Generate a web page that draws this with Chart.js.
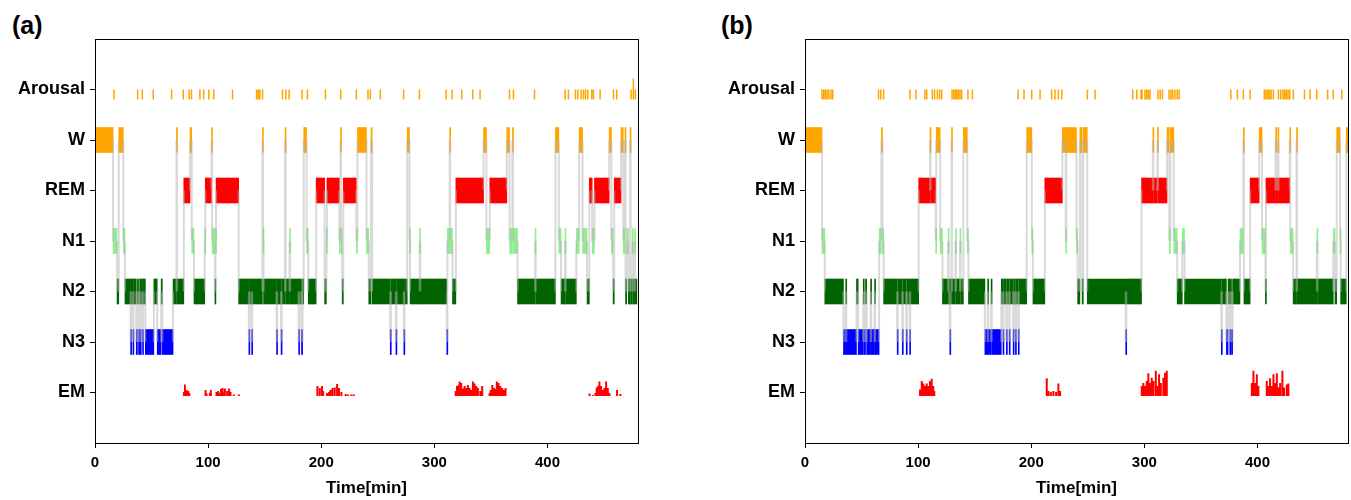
<!DOCTYPE html>
<html>
<head>
<meta charset="utf-8">
<script src="https://cdn.jsdelivr.net/npm/chart.js@4"></script>
<style>
  body { margin: 0; background: #fff; width: 1351px; height: 500px; position: relative; overflow: hidden;
         font-family: "Liberation Sans", Arial, sans-serif; }
  .tag { position: absolute; top: 11px; font-weight: bold; font-size: 25px; }
  #ca { position: absolute; left: 0; top: 0; }
  #cb { position: absolute; left: 710px; top: 0; }
</style>
</head>
<body>
<div class="tag" style="left:12px">(a)</div>
<div class="tag" style="left:721px">(b)</div>
<canvas id="ca" width="675" height="500"></canvas>
<canvas id="cb" width="641" height="500"></canvas>
<script>
// y categories (bottom to top) and x ticks
const stageNames = ["EM", "N3", "N2", "N1", "REM", "W", "Arousal"];
const stageLevel = { W: 5, REM: 4, N1: 3, N2: 2, N3: 1 };
const stageColor = { W: "#ffa500", REM: "#ff0000", N1: "#90ee90", N2: "#006400", N3: "#0000ff" };
const xTicks = [0, 100, 200, 300, 400];

// ---- panel (a): hypnogram, each stage lasts until the next start time ----
const hypTimesA = [0, 16, 19.5, 21, 25, 26.5, 31.5, 32, 33.5, 34, 36.5, 37.5, 38.5, 39.5, 40, 40.5, 42, 42.5, 44.5, 52,
  55, 58.5, 59.5, 69, 72, 72.5, 78.5, 84, 85.5, 87.5, 97, 97.5, 103, 103.5, 106, 106.5, 107, 127, 136, 136.5,
  138.5, 139, 148, 148.5, 149, 160.5, 161, 164.5, 165, 168, 168.5, 172, 172.5, 180, 180.5, 182.5, 183.5, 184.5, 187, 188.5,
  195.5, 203, 204.5, 205, 216, 217, 217.5, 218.5, 219.5, 231, 232, 240, 242, 244, 245, 261, 261.5, 266, 266.5, 273,
  273.5, 276, 278, 278.5, 287, 287.5, 311, 311.5, 313.5, 314, 316, 319, 343.5, 346, 349, 364, 366.5, 369, 369.5, 373.5,
  389, 389.5, 407, 410, 412, 415.5, 416, 425.5, 428, 431, 435, 437, 439.5, 441.5, 454.5, 456.5, 458, 459, 465, 467,
  468.5, 469, 470, 471.5, 473, 473.5, 475, 475.5, 477, 477.5];
const hypStagesA = ["W", "N1", "N2", "W", "N1", "N2", "N3", "N2", "N3", "N2", "N3", "N2", "N3", "N2", "N3", "N2", "N3", "N2", "N3", "N2",
  "N3", "N2", "N3", "N2", "W", "N2", "REM", "W", "N1", "N2", "N1", "REM", "W", "N1", "N2", "N1", "REM", "N2", "N3", "N2",
  "N3", "N2", "W", "N1", "N2", "N3", "N2", "N3", "N2", "W", "N2", "N1", "N2", "N3", "N2", "N3", "N2", "W", "N1", "N2",
  "REM", "N2", "N1", "REM", "N1", "W", "N1", "N2", "REM", "N1", "W", "N1", "N2", "W", "N2", "N3", "N2", "N3", "N2", "N3",
  "N2", "W", "N1", "N2", "N1", "N2", "N3", "N1", "W", "N1", "N2", "REM", "W", "N1", "REM", "W", "N1", "W", "N1", "N2",
  "N1", "N2", "W", "N1", "N2", "N1", "N2", "N1", "W", "N1", "N2", "REM", "N1", "REM", "W", "N1", "N2", "REM", "W", "N1",
  "W", "N2", "N1", "N2", "W", "N2", "N1", "N2", "N1", "N2"];
const hypEndA = 479;

const arousalA = [16.8, 37.7, 41.8, 51.5, 67.7, 78, 83.3, 85.3, 92.7, 96.1, 100.6, 105, 121.6, 142.8, 144.3, 145.7, 148.1,
  165.8, 168.7, 171.6, 183, 187.8, 203.7, 217.2, 231, 241.3, 243.4, 252.2, 272.8, 286.8, 310.4, 315.7, 324.2, 333.9,
  340.4, 366.4, 369.9, 388.5, 415.6, 418.5, 424.7, 426.8, 429.8, 431.8, 433.6, 435.6, 439.1, 440.6, 446.5, 458.3,
  461.2, 473.9, 475.9, 477.7];
const arousalTallA = [475.9];

const emTimesA = [78.6, 79.5, 81, 82.4, 83.3, 97.7, 98.6, 101.5, 102.4, 107.4, 108.9, 110.4, 111.3, 112.7, 114.2, 114.8,
  116.8, 118.6, 119.8, 122.7, 127.2, 196.6, 198.7, 200.7, 201.6, 205.1, 206.9, 208.1, 209.9, 211.9, 214, 215.7, 217.8,
  221.6, 223.7, 226.6, 228.7, 318.8, 320, 321.4, 322.3, 323.8, 325.2, 326.7, 328.2, 329.6, 331.1, 332.6, 334.1, 335.5,
  337, 338.5, 340.6, 342.3, 348.8, 349.7, 351.2, 352.6, 354.1, 355.2, 356.7, 358.2, 360, 361.4, 362.9, 437.1, 440,
  442.4, 443.5, 444.7, 445.9, 447.4, 448.8, 450.3, 451.8, 453.3, 454.7, 461.5, 464.4];
const emHeightsA = [0.08, 0.23, 0.12, 0.1, 0.06, 0.12, 0.05, 0.06, 0.12, 0.08, 0.1, 0.06, 0.14, 0.16, 0.08, 0.15,
  0.1, 0.15, 0.08, 0.03, 0.03, 0.2, 0.16, 0.2, 0.1, 0.06, 0.08, 0.12, 0.16, 0.17, 0.24, 0.16, 0.08,
  0.04, 0.03, 0.03, 0.03, 0.1, 0.2, 0.22, 0.29, 0.26, 0.15, 0.2, 0.16, 0.22, 0.16, 0.12, 0.29, 0.25,
  0.2, 0.16, 0.1, 0.2, 0.06, 0.12, 0.22, 0.16, 0.14, 0.29, 0.26, 0.2, 0.16, 0.12, 0.16, 0.05, 0.02,
  0.06, 0.17, 0.2, 0.29, 0.2, 0.12, 0.16, 0.29, 0.16, 0.06, 0.12, 0.04];

// ---- panel (b) ----
const hypTimesB = [0, 15, 17.5, 34, 36, 36.5, 45.5, 47, 51.5, 52, 53.5, 54.5, 58, 58.5, 61.5, 62, 65.5, 67.5, 68.5, 69.5,
  81.5, 82, 86, 86.5, 89.5, 90, 92.5, 93, 100.5, 110.5, 111, 115.5, 116, 119.5, 121.5, 126.5, 127, 128, 128.5, 129.5,
  130, 133, 133.5, 137, 137.5, 140, 143.5, 144.5, 159, 161.5, 162, 164.5, 165, 173.5, 175, 175.5, 178, 178.5, 180.5, 181,
  184, 184.5, 186, 186.5, 188.5, 189, 196, 200.5, 201.5, 212, 227.5, 230.5, 231, 240, 241, 243, 245, 246, 249.5, 283.5,
  284, 297.5, 307.5, 308, 311.5, 312, 320, 322, 323, 326, 329, 333.5, 335.5, 368, 368.5, 372.5, 374, 375.5, 376, 377,
  378, 384.5, 387.5, 388, 393.5, 401.5, 404, 407, 407.5, 416, 416.5, 418, 418.5, 428.5, 429, 431.5, 434.5, 435, 452.5, 453,
  467, 468.5, 470, 473, 473.5, 478.5];
const hypStagesB = ["W", "N1", "N2", "N3", "N2", "N3", "N2", "N3", "N2", "N3", "N2", "N3", "N2", "N3", "N2", "N3", "N1", "W", "N1", "N2",
  "N3", "N2", "N3", "N2", "N3", "N2", "N3", "N2", "REM", "W", "REM", "N1", "W", "N1", "N2", "N1", "N2", "N3", "N2", "W",
  "N2", "N1", "N2", "N1", "N2", "W", "N1", "N2", "N3", "N2", "N3", "N2", "N3", "N2", "N3", "N2", "N3", "N2", "N3", "N2",
  "N3", "N2", "N3", "N2", "N3", "N2", "W", "N1", "N2", "REM", "W", "N1", "W", "N1", "N2", "W", "N2", "W", "N2", "N3",
  "N2", "REM", "W", "REM", "W", "REM", "W", "N1", "W", "N1", "N2", "N1", "N2", "N3", "N2", "N3", "N2", "N3", "N2", "N3",
  "N2", "N1", "W", "N2", "REM", "W", "N1", "N2", "REM", "W", "REM", "W", "REM", "W", "N1", "N2", "W", "N2", "N1", "N2",
  "N1", "N2", "W", "N1", "N2", "W"];
const hypEndB = 480;

const arousalB = [15, 16.5, 18, 19.5, 21, 23, 24.5, 65, 67, 69.5, 92.8, 98, 106, 107.6, 112.5, 114.5, 117, 119, 120.8,
  130, 131.5, 133, 134, 135.5, 137, 138.5, 144, 148, 188.4, 193.6, 200.4, 207.8, 218, 221, 224, 227, 249.6, 256.4,
  289.7, 293.3, 297, 298, 300.5, 302, 303.5, 305, 312, 314, 316, 321.8, 323.5, 325, 327, 329, 330.7, 376.4, 382.2,
  387.5, 393.5, 406, 407.5, 409, 410.5, 412, 414, 418.5, 420.5, 422.5, 424, 425.5, 427, 428.5, 431.7, 441.5, 446.5,
  452.4, 462, 467, 474.5];
const arousalTallB = [];

const emTimesB = [101.7, 103.2, 104.6, 106.1, 107.6, 109, 110.5, 112, 113.4, 114.3, 213.7, 215.2, 217.3, 219.6, 222, 224,
  225.5, 297.7, 299.1, 300.6, 302.1, 303.5, 305, 306.5, 308, 310.1, 311.5, 313, 314.5, 316.8, 318.3, 319.8, 395, 396.4,
  397.9, 399.4, 400.8, 408.2, 409.6, 411.1, 412.6, 414.1, 415.6, 417.1, 418.5, 420, 422, 423.5, 425.9, 427.3];
const emHeightsB = [0.13, 0.3, 0.25, 0.2, 0.25, 0.2, 0.3, 0.34, 0.2, 0.1, 0.35, 0.1, 0.08, 0.1, 0.08, 0.25,
  0.1, 0.2, 0.26, 0.2, 0.3, 0.45, 0.26, 0.36, 0.3, 0.5, 0.2, 0.43, 0.26, 0.36, 0.46, 0.5, 0.26, 0.5,
  0.26, 0.43, 0.2, 0.3, 0.2, 0.35, 0.2, 0.43, 0.26, 0.45, 0.17, 0.26, 0.5, 0.17, 0.23, 0.25];

const FONT = "'Liberation Sans', Arial, sans-serif";
const emBase = -0.07;

function stageBars(times, stages, end) {
  return times.map((t, i) => ({ x: [t, i + 1 < times.length ? times[i + 1] : end], y: stageLevel[stages[i]] }));
}
function transitions(times, stages) {
  const pts = [];
  for (let i = 1; i < times.length; i++) {
    pts.push({ x: times[i], y: stageLevel[stages[i - 1]] }, { x: times[i], y: stageLevel[stages[i]] }, { x: times[i], y: null });
  }
  return pts;
}
function spikes(xs, base, tops) {
  const pts = [];
  xs.forEach((x, i) => { pts.push({ x: x, y: base }, { x: x, y: tops(i) }, { x: x, y: null }); });
  return pts;
}

const frame = {
  id: "frame",
  afterDraw(chart) {
    const { ctx, chartArea: a } = chart;
    ctx.save();
    ctx.strokeStyle = "#000";
    ctx.lineWidth = 1;
    ctx.strokeRect(Math.round(a.left) + 0.5, Math.round(a.top) + 0.5, Math.round(a.right - a.left), Math.round(a.bottom - a.top));
    ctx.restore();
  }
};

function drawPanel(id, times, stages, end, arousal, tall, emT, emH, padRight) {
  new Chart(document.getElementById(id), {
    type: "line",
    data: {
      datasets: [
        {
          type: "bar", indexAxis: "y", grouped: false,
          data: stageBars(times, stages, end),
          backgroundColor: stages.map(s => stageColor[s]),
          borderWidth: 0, barThickness: 25, minBarLength: 1, order: 3
        },
        {
          data: transitions(times, stages),
          borderColor: "rgba(180,180,180,0.5)", borderWidth: 2, pointRadius: 0, order: 1
        },
        {
          data: spikes(arousal, 5.8, i => (tall.includes(arousal[i]) ? 6.22 : 6.0)),
          borderColor: "#ffa500", borderWidth: 1.5, pointRadius: 0, order: 0
        },
        {
          data: spikes(emT, emBase, i => emBase + emH[i]),
          borderColor: "#ff0000", borderWidth: 2, pointRadius: 0, order: 0
        }
      ]
    },
    options: {
      responsive: false,
      animation: false,
      devicePixelRatio: 1,
      spanGaps: false,
      layout: { padding: { top: 39, right: padRight, left: 0, bottom: 0 } },
      plugins: { legend: { display: false }, tooltip: { enabled: false } },
      scales: {
        x: {
          type: "linear", min: 0, max: 480, offset: false,
          afterBuildTicks: s => { s.ticks = xTicks.map(v => ({ value: v })); },
          afterFit: s => { s.height = 57; },
          grid: { offset: false, drawOnChartArea: false, tickLength: 5, tickColor: "#000" },
          border: { display: false },
          ticks: { color: "#000", padding: 6, maxRotation: 0, font: { family: FONT, size: 15, weight: "bold" } },
          title: { display: true, text: "Time[min]", color: "#000", padding: { top: 0, bottom: 1 }, font: { family: FONT, size: 17, weight: "bold" } }
        },
        y: {
          type: "linear", min: -1, max: 7, offset: false,
          afterBuildTicks: s => { s.ticks = stageNames.map((n, i) => ({ value: i })); },
          afterFit: s => { s.width = 95; },
          grid: { offset: false, drawOnChartArea: false, tickLength: 5, tickColor: "#000" },
          border: { display: false },
          ticks: { color: "#000", padding: 5, callback: v => stageNames[v], font: { family: FONT, size: 18, weight: "bold" } }
        }
      }
    },
    plugins: [frame]
  });
}

drawPanel("ca", hypTimesA, hypStagesA, hypEndA, arousalA, arousalTallA, emTimesA, emHeightsA, 37);
drawPanel("cb", hypTimesB, hypStagesB, hypEndB, arousalB, arousalTallB, emTimesB, emHeightsB, 3);
</script>
</body>
</html>
